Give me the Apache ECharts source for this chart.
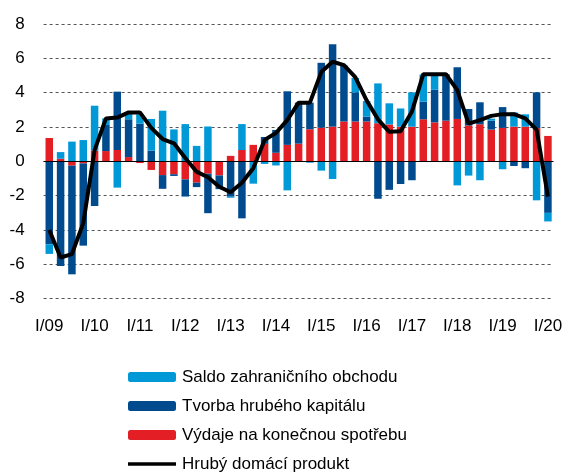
<!DOCTYPE html>
<html>
<head>
<meta charset="utf-8">
<script src="https://cdn.jsdelivr.net/npm/echarts@6/dist/echarts.min.js"></script>
<style>
  html, body { margin: 0; padding: 0; background: #fff; }
  #chart { width: 566px; height: 473px; }
</style>
</head>
<body>
<div id="chart"></div>
<script>
// čtvrtletí I/09 .. I/20
const years = ['09', '10', '11', '12', '13', '14', '15', '16', '17', '18', '19', '20']
const quarters = ['I', 'II', 'III', 'IV']
const categories = []
years.forEach(y => quarters.forEach(q => categories.push(q + '/' + y)))
categories.length = 45

// příspěvky k růstu HDP (p.b.)
const spotreba = [1.36, 0.15, -0.25, -0.12, 0.62, 0.6, 0.66, 0.25, -0.1, -0.5, -0.8, -0.75, -1.05, -1.24, -0.72, -0.82,
  0.32, 0.66, 0.96, 1.02, 0.5, 0.96, 1.03, 1.87, 1.96, 2.02, 2.32, 2.32, 2.32, 2.22, 2.15, 2.02,
  2.02, 2.45, 2.27, 2.37, 2.47, 2.09, 2.16, 1.85, 1.95, 2.02, 2.02, 1.94, 1.48]
const kapital = [-4.83, -6.1, -6.33, -4.79, -2.6, 1.52, 3.4, 2.2, 2.2, 0.62, -0.8, -0.1, -1.0, -0.26, -2.3, -0.8,
  -2.06, -3.32, 0, 0.4, 1.33, 3.12, 2.39, 1.55, 3.78, 4.8, 3.26, 1.7, 0.28, -2.18, -1.66, -1.32,
  -1.1, 1.03, 1.9, 2.7, 3.01, 0.96, 1.28, 0.52, 1.21, -0.27, -0.4, 2.08, -3.0]
const saldo = [-0.56, 0.39, 1.15, 1.24, 2.62, 0.38, -1.53, 0.33, 0.54, 1.85, 2.95, 1.86, 2.17, 0.9, 2.03, 0,
  -0.06, 1.51, -1.3, -0.15, -0.24, -1.69, 0, -0.08, -0.54, -1.03, 0, 0.84, 0.91, 2.32, 1.23, 1.06,
  2.0, 1.58, 0.88, 0, -1.4, -0.83, -1.1, 0.12, -0.46, 0.83, 0.72, -2.27, -0.5]
const hdp = [-4.0, -5.6, -5.4, -3.6, 0.65, 2.5, 2.55, 2.85, 2.85, 1.95, 1.3, 1.05, 0.2, -0.6, -0.93, -1.48,
  -1.8, -1.25, -0.4, 1.25, 1.65, 2.4, 3.42, 3.42, 5.2, 5.8, 5.6, 4.9, 3.55, 2.45, 1.72, 1.75,
  2.9, 5.08, 5.08, 5.08, 4.15, 2.2, 2.4, 2.65, 2.75, 2.75, 2.5, 1.85, -2.05]

const yTicks = [-8, -6, -4, -2, 0, 2, 4, 6, 8]

const chart = echarts.init(document.getElementById('chart'))

const font = 'Liberation Sans'
const barStyle = { stack: 'c', type: 'bar', barWidth: 7.5 }

const option = {
  animation: false,
  textStyle: { fontFamily: font },
  grid: { left: 43.6, right: 12.4, top: 24, bottom: 174.3 },
  legend: {
    orient: 'vertical',
    left: 128,
    top: 367,
    height: 110,
    padding: 0,
    itemWidth: 48,
    itemHeight: 10,
    itemGap: 9,
    textStyle: { fontSize: 17, color: '#000', fontFamily: font, lineHeight: 20, padding: [0, 0, 0, 1] },
    data: [
      { name: 'Saldo zahraničního obchodu' },
      { name: 'Tvorba hrubého kapitálu' },
      { name: 'Výdaje na konečnou spotřebu' },
      { name: 'Hrubý domácí produkt', icon: 'path://M0,0 L48,0 L48,3.5 L0,3.5 Z' }
    ]
  },
  xAxis: {
    type: 'category',
    data: categories,
    axisLine: { show: false, onZero: false },
    axisTick: { show: false },
    axisLabel: { interval: 3, margin: 19, fontSize: 17, color: '#000' },
    splitLine: { show: false }
  },
  yAxis: {
    type: 'value',
    min: yTicks[0],
    max: yTicks[yTicks.length - 1],
    interval: 2,
    axisLine: { show: false },
    axisTick: { show: false },
    axisLabel: { margin: 19, fontSize: 17, color: '#000' },
    splitLine: { lineStyle: { color: '#555', type: [3, 3], width: 1 } }
  },
  series: [
    {
      ...barStyle,
      name: 'Výdaje na konečnou spotřebu',
      data: spotreba,
      itemStyle: { color: '#E31E25' }
    },
    {
      ...barStyle,
      name: 'Tvorba hrubého kapitálu',
      data: kapital,
      itemStyle: { color: '#004B8D' }
    },
    {
      ...barStyle,
      name: 'Saldo zahraničního obchodu',
      data: saldo,
      itemStyle: { color: '#0099D8' },
      markLine: {
        silent: true,
        symbol: 'none',
        label: { show: false },
        lineStyle: { color: '#000', type: 'solid', width: 1.2 },
        data: [{ yAxis: 0 }]
      }
    },
    {
      name: 'Hrubý domácí produkt',
      type: 'line',
      data: hdp,
      symbol: 'none',
      z: 5,
      lineStyle: { color: '#000', width: 4 },
      itemStyle: { color: '#000' }
    }
  ]
}

chart.setOption(option)
</script>
</body>
</html>
